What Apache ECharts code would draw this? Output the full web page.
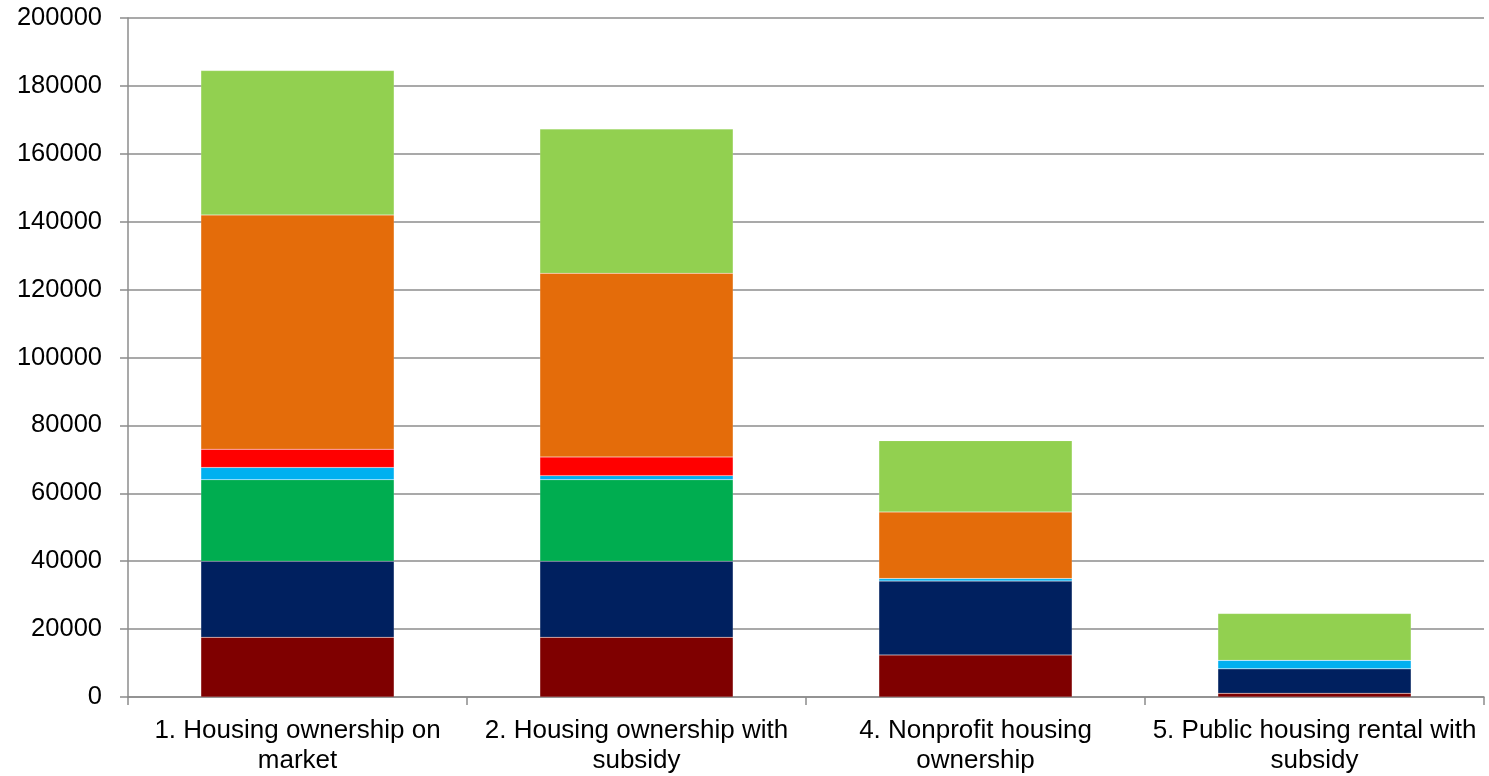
<!DOCTYPE html>
<html>
<head>
<meta charset="utf-8">
<script src="https://cdn.jsdelivr.net/npm/echarts@6/dist/echarts.min.js"></script>
<style>
html,body{margin:0;padding:0;background:#fff;}
#chart{width:1489px;height:776px;}
</style>
</head>
<body>
<div id="chart"></div>
<script>
const categories = ["1. Housing ownership on market", "2. Housing ownership with subsidy", "4. Nonprofit housing ownership", "5. Public housing rental with subsidy"];
const yTicks = [0, 20000, 40000, 60000, 80000, 100000, 120000, 140000, 160000, 180000, 200000];

const seriesA = [17600, 17600, 12400, 1100];   // dark red
const seriesB = [22400, 22400, 21800, 7200];   // navy
const seriesC = [24000, 24000, 0, 0];          // green
const seriesD = [3600, 1200, 700, 2500];       // light blue
const seriesE = [5400, 5500, 0, 0];            // red
const seriesF = [69000, 54100, 19600, 0];      // orange
const seriesG = [42500, 42500, 21000, 13800];  // light green

const seriesList = [
  {name: "Series A", data: seriesA, color: "#7F0000"},
  {name: "Series B", data: seriesB, color: "#00205F"},
  {name: "Series C", data: seriesC, color: "#00AD50"},
  {name: "Series D", data: seriesD, color: "#00B0F0"},
  {name: "Series E", data: seriesE, color: "#FF0000"},
  {name: "Series F", data: seriesF, color: "#E46C0A"},
  {name: "Series G", data: seriesG, color: "#92D050"}
];

const chart = echarts.init(document.getElementById('chart'));
chart.setOption({
  animation: false,
  backgroundColor: '#ffffff',
  grid: {left: 128, right: 5, top: 18, bottom: 75, containLabel: false},
  xAxis: {
    type: 'category',
    data: categories,
    axisLine: {show: true, lineStyle: {color: '#8C8C8C', width: 1.5}},
    axisTick: {show: true, length: 8, alignWithLabel: false, lineStyle: {color: '#8C8C8C', width: 1.5}},
    axisLabel: {
      interval: 0,
      margin: 19,
      color: '#000',
      fontFamily: 'Liberation Sans, Arial, sans-serif',
      fontSize: 26,
      lineHeight: 30,
      formatter: function (s) { return s.replace(/ (\S+)$/, '\n$1'); }
    }
  },
  yAxis: {
    type: 'value',
    min: yTicks[0],
    max: yTicks[yTicks.length - 1],
    interval: yTicks[1] - yTicks[0],
    axisLine: {show: true, lineStyle: {color: '#8C8C8C', width: 1.5}},
    axisTick: {show: true, length: 8, lineStyle: {color: '#8C8C8C', width: 1.5}},
    splitLine: {show: true, lineStyle: {color: '#8C8C8C', width: 1.5}},
    axisLabel: {
      margin: 26,
      color: '#000',
      fontFamily: 'Liberation Sans, Arial, sans-serif',
      fontSize: 25.5,
      formatter: function (v) { return String(v); }
    }
  },
  series: seriesList.map(s => ({
    name: s.name,
    type: 'bar',
    stack: 'total',
    data: s.data,
    barWidth: '57%',
    itemStyle: {color: s.color, borderColor: 'rgba(255,255,255,0.25)', borderWidth: 0.5}
  }))
});
</script>
</body>
</html>
